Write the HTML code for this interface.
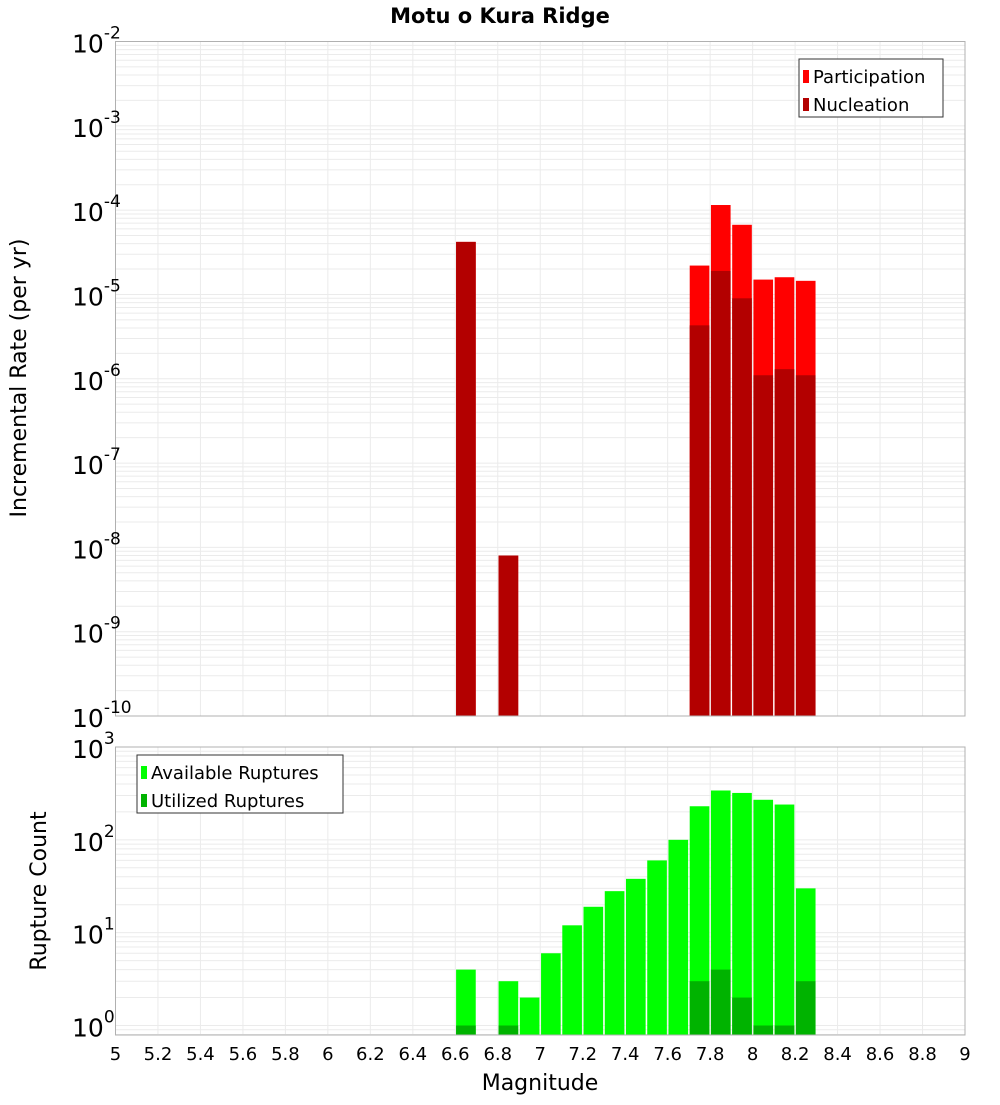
<!DOCTYPE html>
<html><head><meta charset="utf-8"><style>
body{margin:0;background:#fff;}
svg text{font-family:"DejaVu Sans","Liberation Sans",sans-serif;}
</style></head><body>
<svg id="c" width="1000" height="1100" xmlns="http://www.w3.org/2000/svg">
<text x="500" y="23" text-anchor="middle" font-size="21" font-weight="bold">Motu o Kura Ridge</text>
<text transform="translate(26,378) rotate(-90)" text-anchor="middle" font-size="22">Incremental Rate (per yr)</text>
<text transform="translate(46,891) rotate(-90)" text-anchor="middle" font-size="22">Rupture Count</text>
<text x="540" y="1090" text-anchor="middle" font-size="22">Magnitude</text>
<g id="g"></g>
</svg>
<script>
const mags=[6.65,6.85,7.75,7.85,7.95,8.05,8.15,8.25];
const participation=[4.2e-5,8e-9,2.2e-5,1.15e-4,6.7e-5,1.5e-5,1.6e-5,1.45e-5];
const nucleation=[4.2e-5,8e-9,4.3e-6,1.9e-5,9e-6,1.1e-6,1.3e-6,1.1e-6];
const countMags=[6.65,6.85,6.95,7.05,7.15,7.25,7.35,7.45,7.55,7.65,7.75,7.85,7.95,8.05,8.15,8.25];
const available=[4,3,2,6,12,19,28,38,60,100,230,340,320,270,240,30];
const utilized=[1,1,0,0,0,0,0,0,0,0,3,4,2,1,1,3];
const xTicks=[5,5.2,5.4,5.6,5.8,6,6.2,6.4,6.6,6.8,7,7.2,7.4,7.6,7.8,8,8.2,8.4,8.6,8.8,9];
const topExps=[-2,-3,-4,-5,-6,-7,-8,-9,-10];
const botExps=[3,2,1,0];
const binW=0.1;
const NS="http://www.w3.org/2000/svg";
const g=document.getElementById('g');
const X0=115.5,X1=965;
const x=m=>X0+(m-5)/4*(X1-X0);
const T0=41.5,T1=716;
const yT=v=>T0+(-2-Math.log10(v))/8*(T1-T0);
const B0=747,B1=1035,bMin=Math.log10(0.79);
const yB=v=>B0+(3-Math.log10(v))/(3-bMin)*(B1-B0);
function el(t,a,p){const e=document.createElementNS(NS,t);for(const k in a)e.setAttribute(k,a[k]);(p||g).appendChild(e);return e;}
function grid(top,bot,yf,lo,hi){
  for(let d=lo;d<hi;d++)for(let k=1;k<10;k++){const v=k*Math.pow(10,d);const yy=yf(v);if(yy<top-0.1||yy>bot+0.1)continue;
    const l=el('line',{x1:X0,x2:X1,y1:yy,y2:yy,stroke:'#ebebeb','stroke-width':1});
    
    }
  xTicks.forEach(t=>{const l=el('line',{x1:x(t),x2:x(t),y1:top,y2:bot,stroke:'#ebebeb','stroke-width':1});
    
    });
}
grid(T0,T1,yT,-10,-1);
grid(B0,B1,yB,-1,3);
function bar(m,v,yf,base,col,name){
  const x0=x(m-binW/2)+0.8,x1=x(m+binW/2)-0.8,yy=yf(v);
  const r=el('rect',{x:x0,y:yy,width:x1-x0,height:base-yy,fill:col});
  
  
}
mags.forEach((m,i)=>{bar(m,participation[i],yT,T1,'#ff0000','participation-bar');});
mags.forEach((m,i)=>{bar(m,nucleation[i],yT,T1,'#b30000','nucleation-bar');});
countMags.forEach((m,i)=>{if(available[i]>0)bar(m,available[i],yB,B1,'#00ff00','available-bar');});
countMags.forEach((m,i)=>{if(utilized[i]>0)bar(m,utilized[i],yB,B1,'#00b300','utilized-bar');});
[[T0,T1],[B0,B1]].forEach(([a,b])=>{const r=el('rect',{x:X0,y:a,width:X1-X0,height:b-a,fill:'none',stroke:'#b0b0b0','stroke-width':1});
  
  });
function ylab(e,yy){const t=el('text',{x:72,y:yy+11,'font-size':25});
  
  
  t.textContent='10';const s=el('tspan',{dy:-14,'font-size':17},t);s.textContent=String(e);}
topExps.forEach(e=>ylab(e,yT(Math.pow(10,e))));
botExps.forEach(e=>ylab(e,yB(Math.pow(10,e))));
xTicks.forEach(t=>{const s=el('text',{x:x(t),y:1060,'font-size':18,'text-anchor':'middle'});
  
  
  s.textContent=String(t);});
function legend(lx,ly,w,items){
  const r=el('rect',{x:lx,y:ly,width:w,height:58,fill:'#fff',stroke:'#333','stroke-width':1});
  
  
  items.forEach(([c,lab],i)=>{const yy=ly+18+i*28;
    const s=el('rect',{x:lx+4,y:yy-7,width:6,height:13,fill:c});
    
    
    const t=el('text',{x:lx+14,y:yy+6,'font-size':18});
    
    
    t.textContent=lab;});
}
legend(799,59,144,[['#ff0000','Participation'],['#b30000','Nucleation']]);
legend(137,755,206,[['#00ff00','Available Ruptures'],['#00b300','Utilized Ruptures']]);
</script>
</body></html>
